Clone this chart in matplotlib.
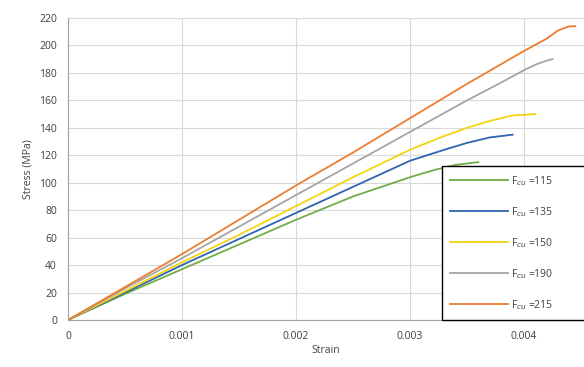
import matplotlib
matplotlib.use("Agg")
import matplotlib.pyplot as plt

plt.rcParams['font.family'] = ['Open Sans', 'DejaVu Sans']

labels = [r'F$_{cu}$ =115', r'F$_{cu}$ =135', r'F$_{cu}$ =150', r'F$_{cu}$ =190', r'F$_{cu}$ =215']
colors = ['#70AD47', '#2E64B0', '#F5D312', '#A5A5A5', '#ED7D31']

strain_115 = [0, 0.0005, 0.001, 0.0015, 0.002, 0.0025, 0.003, 0.0032, 0.0034, 0.0036]
stress_115 = [0, 19, 37, 55, 73, 90, 104, 109, 113, 115]

strain_135 = [0, 0.0005, 0.001, 0.0015, 0.002, 0.0025, 0.003, 0.0033, 0.0035, 0.0037, 0.0039]
stress_135 = [0, 20, 40, 59, 78, 97, 116, 124, 129, 133, 135]

strain_150 = [0, 0.0005, 0.001, 0.0015, 0.002, 0.0025, 0.003, 0.0033, 0.0035, 0.0037, 0.0039, 0.0041]
stress_150 = [0, 21, 42, 62, 83, 104, 124, 134, 140, 145, 149, 150]

strain_190 = [0, 0.0005, 0.001, 0.0015, 0.002, 0.0025, 0.003, 0.0035, 0.0038, 0.004, 0.0041, 0.0042, 0.00425]
stress_190 = [0, 23, 45, 68, 91, 114, 137, 160, 173, 182, 186, 189, 190]

strain_215 = [0, 0.0005, 0.001, 0.0015, 0.002, 0.0025, 0.003, 0.0035, 0.004, 0.0042, 0.0043, 0.0044, 0.00445]
stress_215 = [0, 24, 48, 73, 98, 122, 147, 172, 196, 205, 211, 214, 214]

xticks = [0, 0.001, 0.002, 0.003, 0.004]
xticklabels = ['0', '0.001', '0.002', '0.003', '0.004']
yticks = list(range(0, 221, 20))

series = [(strain_115, stress_115), (strain_135, stress_135), (strain_150, stress_150),
          (strain_190, stress_190), (strain_215, stress_215)]

fig = plt.figure(figsize=(5.84, 3.67), dpi=100)
ax = fig.add_axes([68/584, 47/367, 516/584, 302/367])

for (x, y), c, lab in zip(series, colors, labels):
    ax.plot(x, y, color=c, lw=1.3, label=lab)

ax.set_xlim(0, 516/114*0.001)
ax.set_ylim(0, 220)
ax.set_xticks(xticks)
ax.set_xticklabels(xticklabels)
ax.set_yticks(yticks)
ax.grid(True, color='#D9D9D9', lw=0.8)
ax.set_axisbelow(True)
for s in ['top', 'right']:
    ax.spines[s].set_visible(False)
for s in ['left', 'bottom']:
    ax.spines[s].set_color('#A0A0A0')
ax.tick_params(length=0, labelsize=7.5, colors='#404040', pad=8)
ax.set_xlabel('Strain', fontsize=7.5, color='#404040', labelpad=2)
ax.set_ylabel('Stress (MPa)', fontsize=7.5, color='#404040', labelpad=4)

leg = ax.legend(loc='lower left', bbox_to_anchor=(442/584, 47/367, 150/584, 152/367),
                bbox_transform=fig.transFigure, mode='expand', borderaxespad=0,
                fancybox=False, edgecolor='black', framealpha=1, fontsize=7.5,
                handlelength=5.5, labelspacing=1.65, borderpad=0.8, handletextpad=0.3)
leg.get_frame().set_linewidth(1.0)
for t in leg.get_texts():
    t.set_color('#404040')

fig.savefig('out.png', dpi=100)
